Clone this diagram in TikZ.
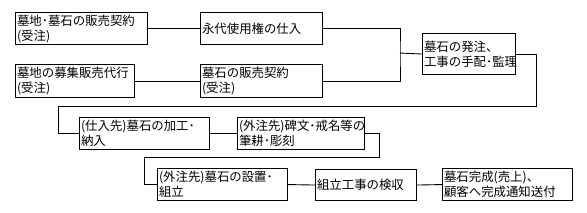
\documentclass[tikz,border=0pt]{standalone}
\usepackage{fontspec}
\newfontfamily\jp{Noto Sans CJK JP}
\begin{document}
\begin{tikzpicture}[x=1pt,y=-1pt,
  box/.style={draw, line width=1.1pt, inner sep=1.5pt, anchor=north west, align=left,
    font=\jp\fontsize{12.4pt}{15pt}\selectfont},
  conn/.style={draw, line width=0.9pt}]
\useasboundingbox (0,0) rectangle (587,212);
% boxes: position = top-left corner
\node[box, minimum width=132pt, minimum height=32pt, text width=129pt] (b1) at (15,12) {墓地･墓石の販売契約\\(受注)};
\node[box, minimum width=122pt, minimum height=32pt, text width=119pt] (b2) at (200,12) {永代使用権の仕入};
\node[box, minimum width=119pt, minimum height=33pt, text width=116pt] (b3) at (15,64) {墓地の募集販売代行\\(受注)};
\node[box, minimum width=122pt, minimum height=33pt, text width=119pt] (b4) at (200,64) {墓石の販売契約\\(受注)};
\node[box, minimum width=93pt, minimum height=41pt, text width=90pt] (b5) at (422,33) {墓石の発注、\\工事の手配･監理};
\node[box, minimum width=130pt, minimum height=32pt, text width=127pt] (b6) at (79,117) {(仕入先)墓石の加工･\\納入};
\node[box, minimum width=127pt, minimum height=32pt, text width=124pt] (b7) at (237,117) {(外注先)碑文･戒名等の\\筆耕･彫刻};
\node[box, minimum width=130pt, minimum height=32pt, text width=127pt] (b8) at (157,168) {(外注先)墓石の設置･\\組立};
\node[box, minimum width=101pt, minimum height=31pt, text width=98pt] (b9) at (315,169) {組立工事の検収};
\node[box, minimum width=130pt, minimum height=32pt, text width=127pt] (b10) at (442,168) {墓石完成(売上)、\\顧客へ完成通知送付};
% junction coordinates
\coordinate (j1) at (400,53);
\coordinate (r1) at (536,106);
\coordinate (l1) at (58,106);
\coordinate (r2) at (379,157);
\coordinate (l2) at (144,157);
% connectors
\draw[conn] (b1.east) -- (b2.west);
\draw[conn] (b3.east) -- (b4.west);
\draw[conn] (b2.east) -| (j1) |- (b4.east);
\draw[conn] (j1) -- (b5.west);
\draw[conn] (b5.east) -| (r1) -- (l1) |- (b6.west);
\draw[conn] (b6.east) -- (b7.west);
\draw[conn] (b7.east) -| (r2) -- (l2) |- (b8.west);
\draw[conn] (b8.east) -- (b9.west);
\draw[conn] (b9.east) -- (b10.west);
\end{tikzpicture}
\end{document}
